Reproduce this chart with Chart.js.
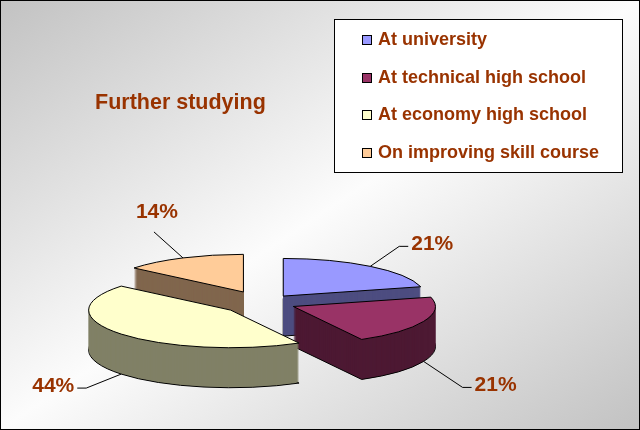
<!DOCTYPE html>
<html>
<head>
<meta charset="utf-8">
<title>Further studying</title>
<script src="https://cdn.jsdelivr.net/npm/chart.js@4.4.1/dist/chart.umd.min.js"></script>
<style>
  html, body { margin: 0; padding: 0; background: #fff; }
  #wrap { width: 640px; height: 430px; }
</style>
</head>
<body>
<div id="wrap"><canvas id="myChart" width="640" height="430"></canvas></div>
<script>
'use strict'

// DATA
const categories = ['At university', 'At technical high school', 'At economy high school', 'On improving skill course'];
const percentValues = [21, 21, 44, 14];
const chartTitle = 'Further studying';

// STYLE
const topColors = ['#9999ff', '#993366', '#ffffcc', '#ffcc99'];
const sideColors = ['#4d4d80', '#4d1933', '#808066', '#80664d'];
const textColor = '#993300';
const FONT = '"Liberation Sans", Arial, sans-serif';

const CENTER_X = 263;
const CENTER_Y = 303;
const RADIUS = 142;
const TILT = 0.265;   // vertical squash of the pie
const DEPTH = 40;     // wall height in px
const explode = [33, 33, 42, 46];
// where each % label sits relative to its slice anchor
const labelShift = [[62, -22], [72, 24], [-68, 12], [-26, -46]];

// draw one slice with the tilt transform, optionally shifted down
function drawSlice(chart, arc, i, dy, fill, borderWidth) {
  const ctx = chart.ctx;
  const base = ctx.getTransform();
  const mid = (arc.startAngle + arc.endAngle) / 2;
  const o = arc.options;
  const oldFill = o.backgroundColor;
  const oldBw = o.borderWidth;

  ctx.save();
  ctx.translate(CENTER_X, CENTER_Y + dy);
  ctx.scale(1, TILT);
  ctx.translate(Math.cos(mid) * explode[i] - arc.x, Math.sin(mid) * explode[i] - arc.y);
  // stroke with the untilted transform so lines stay 1px
  ctx.stroke = function () {
    this.save();
    this.setTransform(base);
    CanvasRenderingContext2D.prototype.stroke.call(this);
    this.restore();
  };
  o.backgroundColor = fill;
  o.borderWidth = borderWidth;
  arc.draw(ctx);
  o.backgroundColor = oldFill;
  o.borderWidth = oldBw;
  delete ctx.stroke;
  ctx.restore();
}

// point on rim at mid angle, in screen space
function anchorOf(arc, i) {
  const mid = (arc.startAngle + arc.endAngle) / 2;
  const r = arc.outerRadius + explode[i];
  let x = CENTER_X + Math.cos(mid) * r;
  let y = CENTER_Y + Math.sin(mid) * r * TILT;
  if (Math.sin(mid) > 0) y += DEPTH;
  return { x: x, y: y };
}

function drawLabels(chart) {
  const ctx = chart.ctx;
  const arcs = chart.getDatasetMeta(0).data;
  ctx.save();
  ctx.font = 'bold 21px ' + FONT;
  ctx.textBaseline = 'middle';
  ctx.strokeStyle = '#000';
  ctx.lineWidth = 1;
  for (let i = 0; i < arcs.length; i++) {
    const a = anchorOf(arcs[i], i);
    const text = percentValues[i] + '%';
    const tw = ctx.measureText(text).width;
    const cx = a.x + labelShift[i][0];
    const cy = a.y + labelShift[i][1];
    ctx.beginPath();
    ctx.moveTo(a.x, a.y);
    if (Math.abs(labelShift[i][0]) > Math.abs(labelShift[i][1])) {
      const dir = labelShift[i][0] > 0 ? 1 : -1;
      const edge = cx - dir * tw / 2;
      ctx.lineTo(edge - dir * 12, cy + 2);
      ctx.lineTo(edge - dir * 3, cy + 2);
    } else {
      ctx.lineTo(cx - 3, cy + 20);
    }
    ctx.stroke();
    ctx.fillStyle = textColor;
    ctx.textAlign = 'center';
    ctx.fillText(text, cx, cy);
  }
  ctx.restore();
}

const background = {
  id: 'background',
  beforeDraw(chart) {
    const ctx = chart.ctx;
    const w = chart.width, h = chart.height;
    const g = ctx.createLinearGradient(0, 0, 398, 592);
    g.addColorStop(0, '#c2c2c2');
    g.addColorStop(0.5, '#fcfcfc');
    g.addColorStop(1, '#c2c2c2');
    ctx.save();
    ctx.fillStyle = g;
    ctx.fillRect(0, 0, w, h);
    ctx.restore();
  }
};

const pie3d = {
  id: 'pie3d',
  beforeDatasetsDraw(chart) {
    const arcs = chart.getDatasetMeta(0).data;
    for (let z = DEPTH; z >= 1; z--) {
      for (let i = 0; i < arcs.length; i++) {
        drawSlice(chart, arcs[i], i, z, sideColors[i], z === DEPTH ? 1 : 0);
      }
    }
    for (let i = 0; i < arcs.length; i++) {
      drawSlice(chart, arcs[i], i, 0, topColors[i], 1);
    }
    return false;
  },
  afterDraw(chart) {
    drawLabels(chart);

    const ctx = chart.ctx;
    ctx.save();
    // title
    ctx.fillStyle = textColor;
    ctx.font = 'bold 21.5px ' + FONT;
    ctx.textAlign = 'left';
    ctx.textBaseline = 'alphabetic';
    ctx.fillText(chartTitle, 95, 109);

    // legend box
    ctx.fillStyle = '#fff';
    ctx.fillRect(334, 19, 288, 153);
    ctx.strokeStyle = '#000';
    ctx.lineWidth = 1;
    ctx.strokeRect(334.5, 19.5, 288, 153);
    ctx.font = 'bold 18px ' + FONT;
    ctx.textBaseline = 'middle';
    for (let i = 0; i < categories.length; i++) {
      const y = 40 + i * 37.7;
      ctx.fillStyle = topColors[i];
      ctx.fillRect(362, Math.round(y) - 5, 10, 10);
      ctx.strokeRect(362.5, Math.round(y) - 4.5, 9, 9);
      ctx.fillStyle = textColor;
      ctx.fillText(categories[i], 378, y);
    }

    // outer frame
    ctx.strokeStyle = '#000';
    ctx.strokeRect(0.5, 0.5, chart.width - 1, chart.height - 1);
    ctx.restore();
  }
};

const data = {
  labels: categories,
  datasets: [{
    data: percentValues,
    backgroundColor: topColors,
    borderColor: '#000',
    borderWidth: 1
  }]
};

const config = {
  type: 'pie',
  data: data,
  options: {
    responsive: false,
    animation: false,
    radius: RADIUS,
    events: [],
    plugins: {
      legend: { display: false },
      tooltip: { enabled: false },
      title: { display: false }
    }
  },
  plugins: [background, pie3d]
};

let canvasChart = document.getElementById('myChart');
const myChart = new Chart(canvasChart, config);
</script>
</body>
</html>
